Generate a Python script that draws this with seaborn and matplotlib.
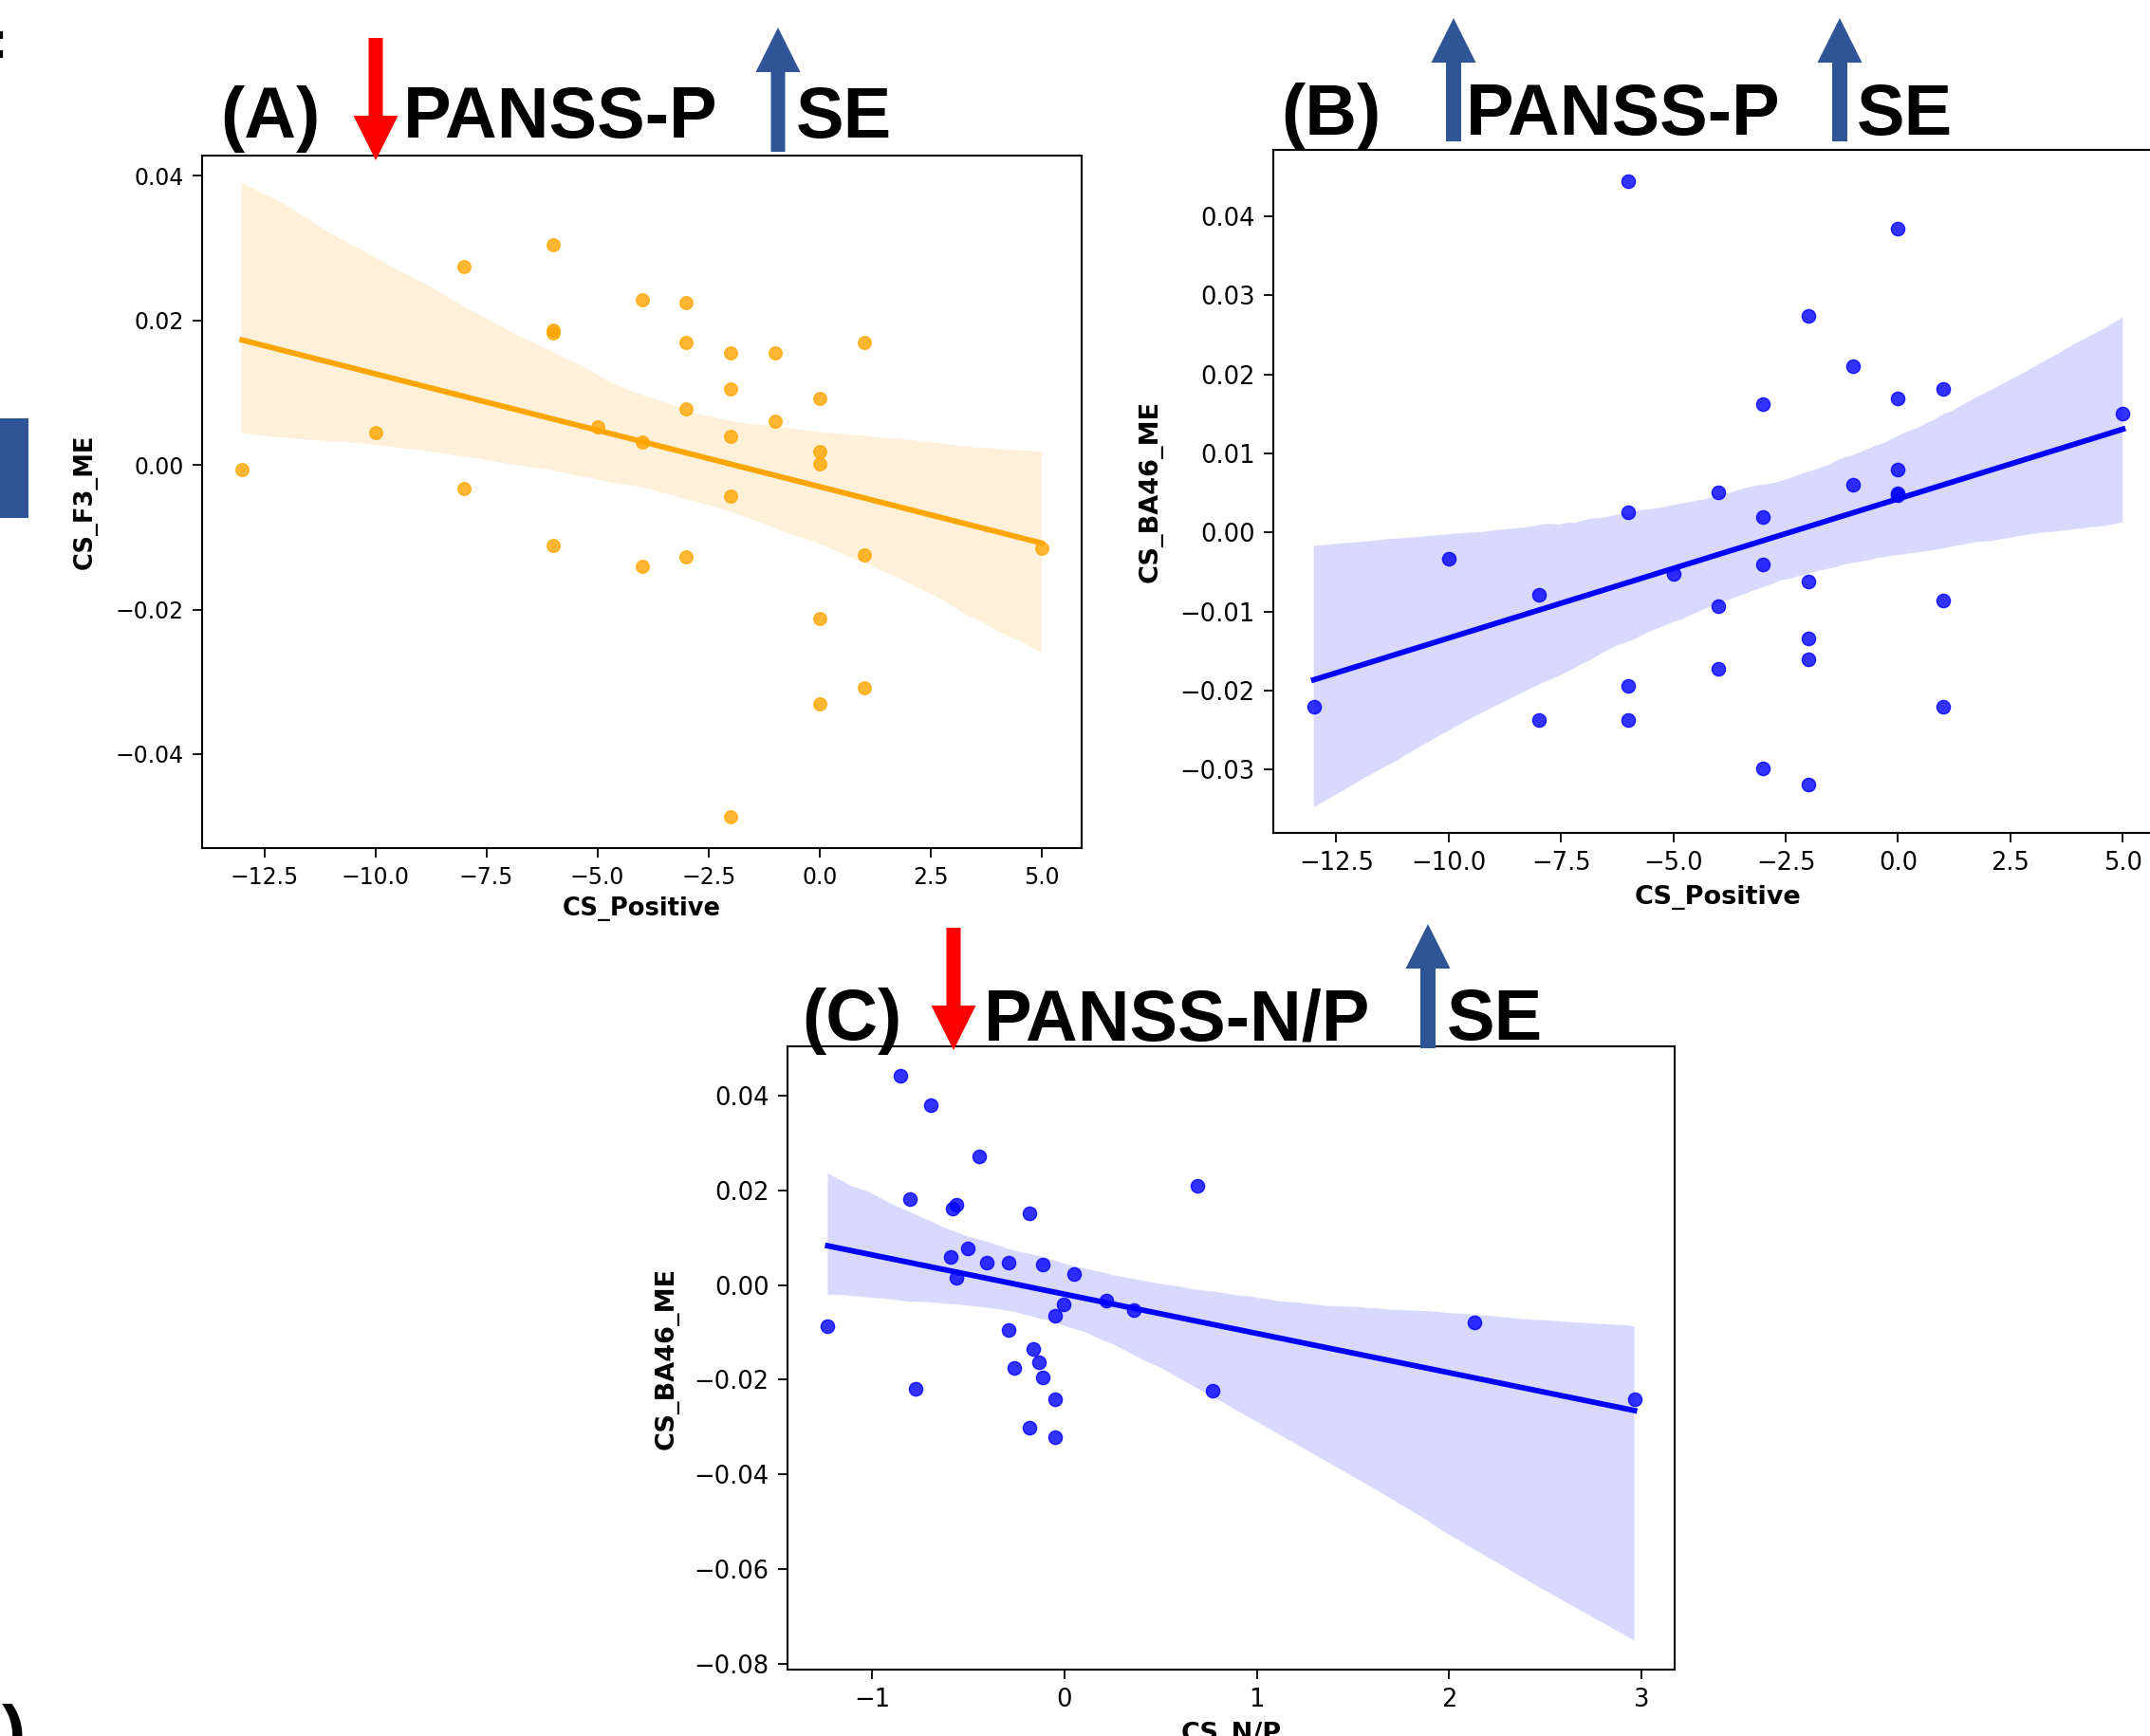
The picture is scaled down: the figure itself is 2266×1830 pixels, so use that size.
import matplotlib
matplotlib.use("Agg")
import matplotlib.pyplot as plt
import seaborn as sns
from matplotlib.patches import FancyArrow, Rectangle
from matplotlib.ticker import MultipleLocator

W, H = 2266, 1830

# ---- data ----
# (A) CS_Positive vs CS_F3_ME
a_pos = [-13, -10, -8, -8, -6, -6, -6, -6, -5, -4, -4, -4, -3, -3, -3, -3,
         -2, -2, -2, -2, -2, -1, -1, 0, 0, 0, 0, 0, 1, 1, 1, 5]
a_f3 = [-0.0006, 0.0045, 0.0274, -0.0033, 0.0304, 0.0187, 0.0182, -0.0112,
        0.0053, 0.0229, 0.0032, -0.0140, 0.0225, 0.0170, 0.0077, -0.0127,
        0.0155, 0.0105, 0.0039, -0.0043, -0.0487, 0.0155, 0.0060, 0.0092,
        0.0019, 0.0002, -0.0212, -0.0330, 0.0170, -0.0125, -0.0308, -0.0115]

# (B) CS_Positive vs CS_BA46_ME
b_pos = [-6, 0, -2, -1, 0, 1, -3, 5, 0, -1, -4, 0, 0, -6, -3, -10,
         -5, -3, -2, -8, -4, 1, -2, -2, -4, -6, -13, 1, -8, -6, -3, -2]
b_ba46 = [0.0444, 0.0384, 0.0274, 0.0211, 0.0170, 0.0182, 0.0163, 0.0151,
          0.0079, 0.0060, 0.0051, 0.0050, 0.0047, 0.0026, 0.0020, -0.0033,
          -0.0053, -0.0041, -0.0062, -0.0079, -0.0093, -0.0086, -0.0134, -0.0160,
          -0.0172, -0.0194, -0.0220, -0.0220, -0.0237, -0.0237, -0.0299, -0.0319]

# (C) CS_N/P vs CS_BA46_ME
c_np = [-0.850, -0.696, -0.442, -0.803, -0.580, -0.561, -0.182, 0.693,
        -0.502, -0.589, -0.404, -0.288, -0.113, 0.050, -0.561, -0.006,
        0.216, 0.361, -0.047, -1.229, 2.129, -0.288, -0.163, -0.132,
        -0.260, -0.113, -0.774, 0.768, -0.047, 2.962, -0.182, -0.047]
c_ba46 = [0.0442, 0.0381, 0.0272, 0.0182, 0.0162, 0.0170, 0.0151, 0.0210,
          0.0077, 0.0060, 0.0048, 0.0048, 0.0044, 0.0024, 0.0015, -0.0041,
          -0.0033, -0.0053, -0.0065, -0.0086, -0.0079, -0.0095, -0.0134, -0.0163,
          -0.0176, -0.0196, -0.0220, -0.0224, -0.0241, -0.0241, -0.0301, -0.0322]

ARROW_BLUE = "#2F5597"
TITLE_FONT = "Liberation Sans"
TITLE_SIZE = 54.5

fig = plt.figure(figsize=(W / 100, H / 100), dpi=100)


def px_axes(left, top, right, bottom):
    """Axes placed by pixel edges of the 2266x1830 canvas."""
    return fig.add_axes([left / W, 1 - bottom / H, (right - left) / W, (bottom - top) / H])


def panel(ax, x, y, color, xlabel, ylabel, xlim, ylim, xstep, ystep,
          tick_fs, label_fs, size, xlab_y, ylab_x):
    sns.regplot(x=x, y=y, color=color, ax=ax, seed=3,
                scatter_kws={"s": size}, line_kws={"lw": 4.2})
    ax.set_xlim(*xlim)
    ax.set_ylim(*ylim)
    ax.xaxis.set_major_locator(MultipleLocator(xstep))
    ax.yaxis.set_major_locator(MultipleLocator(ystep))
    ax.tick_params(labelsize=tick_fs, length=7, width=1.3, pad=7)
    for sp in ax.spines.values():
        sp.set_linewidth(1.5)
    ax.set_xlabel(xlabel, fontsize=label_fs, fontweight="bold")
    ax.set_ylabel(ylabel, fontsize=label_fs, fontweight="bold")
    ax.xaxis.set_label_coords(0.5, xlab_y)
    ax.yaxis.set_label_coords(ylab_x, 0.5)


ax_a = px_axes(213, 164, 1140, 894)
panel(ax_a, a_pos, a_f3, "orange", "CS_Positive", "CS_F3_ME",
      (-13.9, 5.9), (-0.053, 0.0428), 2.5, 0.02, 17, 18.5, 95, -0.07, -0.119)

ax_b = px_axes(1342, 158, 2280, 878)
panel(ax_b, b_pos, b_ba46, "blue", "CS_Positive", "CS_BA46_ME",
      (-13.9, 5.9), (-0.038, 0.0484), 2.5, 0.01, 18.5, 19.5, 105, -0.076, -0.124)

ax_c = px_axes(830, 1103, 1765, 1760)
panel(ax_c, c_np, c_ba46, "blue", "CS_N/P", "CS_BA46_ME",
      (-1.438, 3.171), (-0.0813, 0.0505), 1, 0.02, 18.5, 19.5, 105, -0.084, -0.122)

# ---- overlay in pixel coordinates: panel titles and arrows ----
ov = fig.add_axes([0, 0, 1, 1])
ov.set_xlim(0, W)
ov.set_ylim(H, 0)
ov.axis("off")


def arrow(xc, tail, tip, color, shaft=15):
    ov.add_patch(FancyArrow(xc, tail, 0, tip - tail, width=shaft, head_width=47,
                            head_length=47, length_includes_head=True,
                            color=color, lw=0))


def title(x, y, s):
    ov.text(x, y, s, fontsize=TITLE_SIZE, fontweight="bold", family=TITLE_FONT,
            ha="left", va="baseline")


# (A)
title(232, 145, "(A)")
arrow(396, 40, 169, "red")
title(425, 145, "PANSS-P")
arrow(820, 160, 29, ARROW_BLUE)
title(839, 145, "SE")

# (B)
title(1350, 142, "(B)")
arrow(1532, 149, 19, ARROW_BLUE, shaft=16)
title(1545, 142, "PANSS-P")
arrow(1939, 149, 19, ARROW_BLUE, shaft=16)
title(1957, 142, "SE")

# (C)
title(845, 1096, "(C)")
arrow(1005, 978, 1107, "red")
title(1037, 1096, "PANSS-N/P")
arrow(1505, 1105, 974, ARROW_BLUE, shaft=16)
title(1525, 1096, "SE")

# bits of neighbouring slide content cut by the crop
ov.add_patch(Rectangle((0, 441), 30, 105, color=ARROW_BLUE, lw=0))
ov.text(8, 47, ":", fontsize=40, fontweight="bold", family=TITLE_FONT,
        ha="right", va="center")
ov.text(2, 1851, ")", fontsize=TITLE_SIZE, fontweight="bold", family=TITLE_FONT,
        ha="left", va="baseline")

fig.savefig("out.png", dpi=100)
